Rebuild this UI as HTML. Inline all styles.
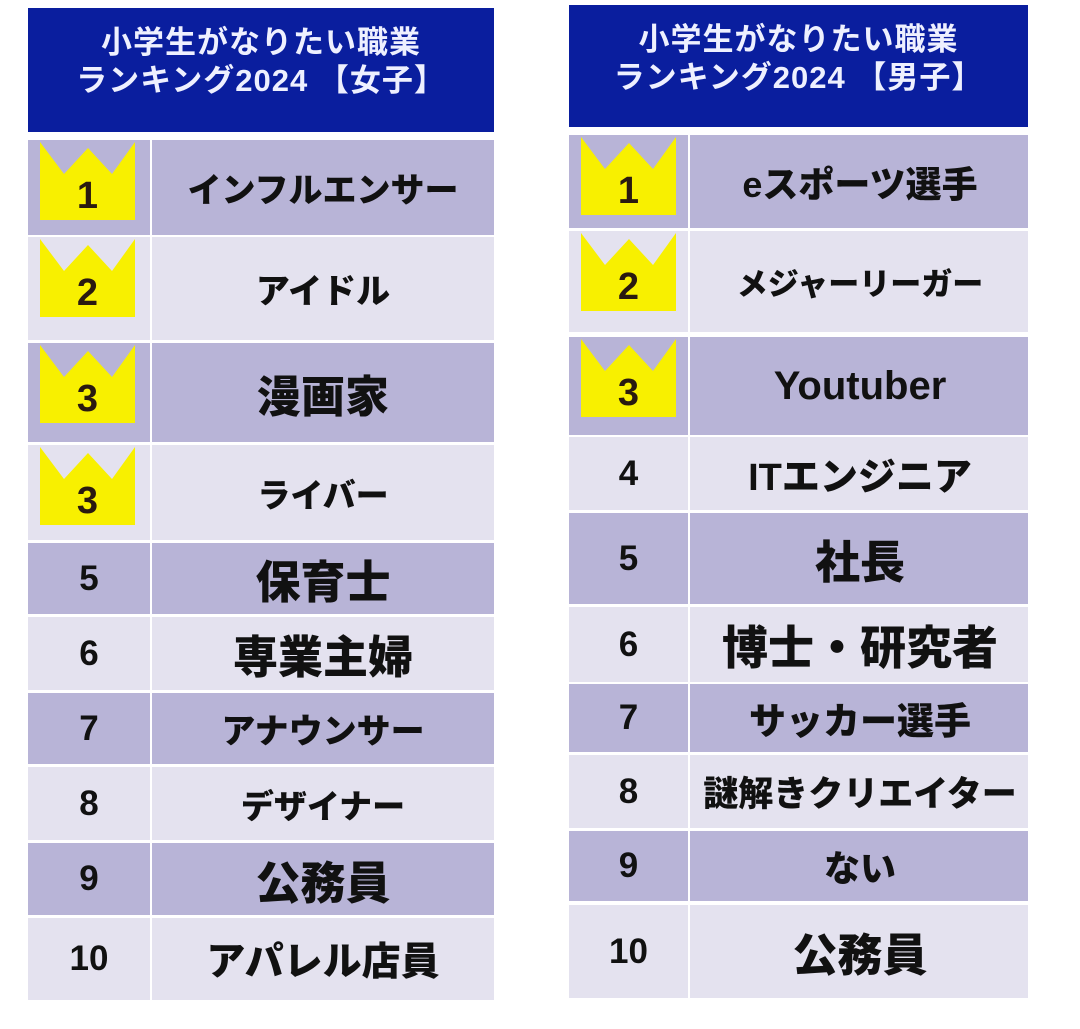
<!DOCTYPE html>
<html><head><meta charset="utf-8"><style>
body{margin:0;width:1080px;height:1029px;background:#fff;position:relative;overflow:hidden;font-family:"Liberation Sans","Noto Sans CJK JP",sans-serif;}
.h{position:absolute;background:#0a1e9e;color:#eef0ff;font-weight:bold;font-size:31px;text-align:center;line-height:38px;box-sizing:border-box;padding-top:16px;letter-spacing:1px;}
.c{position:absolute;display:flex;align-items:center;justify-content:center;font-weight:900;color:#111;}
.d{background:#b8b4d7}.l{background:#e4e2ef}
.cr{position:absolute}
</style></head><body>
<div class="h" style="left:28px;top:8px;width:466px;height:124px">小学生がなりたい職業<br>ランキング2024 【女子】</div>
<div class="h" style="left:569px;top:5px;width:459px;height:122px">小学生がなりたい職業<br>ランキング2024 【男子】</div>
<div id="root"></div>
<script>
var L=[[140,235,'インフルエンサー',34],[237,340,'アイドル',34],[343,442,'漫画家',44],[445,540,'ライバー',33],[543,614,'保育士',45],[617,690,'専業主婦',45],[693,764,'アナウンサー',34],[767,840,'デザイナー',33],[843,915,'公務員',45],[918,1000,'アパレル店員',39]];
var R=[[135,228,'eスポーツ選手',36],[231,332,'メジャーリーガー',31],[337,435,'Youtuber',40],[437,510,'ITエンジニア',38],[513,604,'社長',45],[607,682,'博士・研究者',46],[684,752,'サッカー選手',37],[755,828,'謎解きクリエイター',35],[831,901,'ない',36],[905,998,'公務員',45]];
var ranksL=[1,2,3,3,5,6,7,8,9,10],ranksR=[1,2,3,4,5,6,7,8,9,10];
var h='';
function t(rows,ranks,x0,x1,x2,crowns,nc){
rows.forEach(function(r,i){
 var cls=i%2?'l':'d',top=r[0],ht=r[1]-r[0];
 h+='<div class="c '+cls+'" style="left:'+x0+'px;top:'+top+'px;width:'+(x1-x0)+'px;height:'+ht+'px"></div>';
 h+='<div class="c '+cls+'" style="left:'+(x1+2)+'px;top:'+top+'px;width:'+(x2-x1-2)+'px;height:'+ht+'px"></div>';
 h+='<div class="c" style="left:'+(nc-250)+'px;top:'+top+'px;width:500px;height:'+ht+'px;font-size:'+r[3]+'px;white-space:nowrap">'+r[2]+'</div>';
 if(i<crowns){
  var cx=x0+12,cy=top+2,w=95,hh=78;
  h+='<svg class="cr" style="left:'+cx+'px;top:'+cy+'px" width="'+w+'" height="'+hh+'"><polygon points="0,0 24,32 48,6 72,32 95,0 95,78 0,78" fill="#f8f000"/></svg>';
  h+='<div class="c" style="left:'+cx+'px;top:'+(cy+30)+'px;width:'+w+'px;height:48px;font-size:38px;font-weight:bold;color:#2a1a10">'+ranks[i]+'</div>';
 } else {
  h+='<div class="c" style="left:'+x0+'px;top:'+top+'px;width:'+(x1-x0)+'px;height:'+ht+'px;font-size:35px">'+ranks[i]+'</div>';
 }
});}
t(L,ranksL,28,150,494,4,323);
t(R,ranksR,569,688,1028,3,860);
document.getElementById('root').innerHTML=h;
</script>
</body></html>
